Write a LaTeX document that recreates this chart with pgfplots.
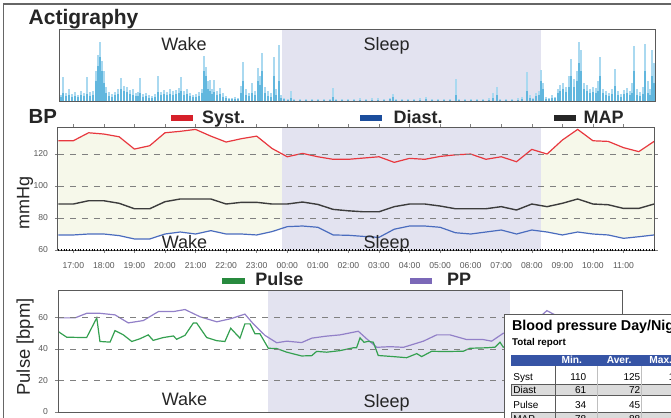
\documentclass[border=0pt]{standalone}
\usepackage{fontspec}
\setmainfont{Liberation Sans}
\usepackage{pgfplots}
\usepackage{pgfplotstable}
\pgfplotsset{compat=1.18}

\definecolor{sleepc}{RGB}{227,227,240}
\definecolor{fillbp}{RGB}{246,248,234}
\definecolor{sysc}{RGB}{232,56,63}
\definecolor{diac}{RGB}{74,108,190}
\definecolor{mapc}{RGB}{60,60,60}
\definecolor{pulsec}{RGB}{52,160,80}
\definecolor{ppc}{RGB}{146,128,200}
\definecolor{actlight}{RGB}{170,217,240}
\definecolor{actdark}{RGB}{98,183,222}
\definecolor{legred}{RGB}{214,32,42}
\definecolor{legblue}{RGB}{27,77,156}
\definecolor{leggreen}{RGB}{40,138,62}
\definecolor{legpurple}{RGB}{123,104,184}
\definecolor{tblue}{RGB}{54,84,165}
\definecolor{framec}{RGB}{90,90,90}

\pgfplotstableread{
t sys dia map
16.51 128.3 69.4 88.75
17.0 128.3 69.4 88.75
17.5 133.3 70.0 90.8
18.0 132.5 70.0 90.8
18.5 130.8 69.0 89.2
19.0 123.1 66.9 85.8
19.5 125.2 66.9 85.8
20.0 133.3 70.0 90.2
20.5 134.2 71.25 91.9
21.0 135.4 70.0 91.9
21.5 131.2 72.1 91.9
22.0 127.5 70.0 88.75
22.5 129.6 70.0 89.8
23.0 131.2 69.4 89.8
23.5 123.5 71.5 88.75
24.0 118.3 74.6 88.75
24.5 120.4 75.0 90.0
25.0 118.3 74.2 88.5
25.5 116.7 69.4 85.4
26.0 116.7 69.2 84.5
26.5 117.5 68.5 83.9
27.0 118.3 67.9 83.9
27.5 114.8 73.0 87.1
28.0 117.3 75.0 88.75
28.5 116.7 75.0 88.75
29.0 118.5 74.2 87.5
29.5 119.5 70.8 85.8
30.0 120.0 70.0 85.8
30.5 116.7 71.25 85.8
31.0 118.3 72.5 87.1
31.5 115.2 70.0 85.0
32.0 122.9 72.5 88.75
32.5 120.0 71.25 87.1
33.0 128.75 69.4 89.2
33.5 135.4 71.25 91.9
34.0 128.3 70.0 88.75
34.5 127.9 69.4 88.3
35.0 124.0 67.3 86.0
35.5 121.5 68.3 86.0
36.0 127.9 69.4 88.75
}\bpdata

\pgfplotstableread{
t v
16.51 51.1
16.80 47.5
17.49 47.3
17.84 59.8
17.95 44.8
18.30 44.4
18.47 51.7
18.76 49.0
19.05 44.8
19.33 46.5
19.62 49.0
19.79 45.5
20.14 47.3
20.49 48.3
20.60 46.2
20.89 48.7
21.18 56.6
21.29 56.6
21.64 47.3
21.99 45.3
22.27 44.8
22.47 53.2
22.79 46.9
22.96 56.0
23.14 56.0
23.31 49.7
23.48 49.7
23.77 40.5
24.06 40.3
24.41 38.0
24.92 35.6
25.27 35.8
25.44 38.5
25.79 38.0
26.25 39.0
26.71 40.8
26.82 40.8
26.94 47.1
27.08 44.3
27.23 44.9
27.40 44.3
27.57 35.9
28.09 35.2
28.55 34.5
28.90 37.1
29.07 35.2
29.42 38.6
29.82 38.4
30.51 38.6
30.74 40.5
31.32 40.8
31.61 41.2
31.78 44.3
31.89 41.2
32.13 42.2
32.82 44.0
33.40 47.0
33.85 46.0
}\pulsedata

\pgfplotstableread{
t v
16.51 59.8
17.09 59.8
17.49 62.7
17.95 62.7
18.47 61.7
18.93 56.6
19.45 58.1
19.97 63.8
20.49 63.8
20.89 65.1
21.41 60.5
21.99 57.3
22.50 59.4
22.96 62.2
23.25 56.0
23.66 48.6
24.06 44.0
24.41 45.0
24.92 44.1
25.27 46.9
25.73 48.1
26.25 49.0
26.88 51.3
27.17 46.5
27.52 41.1
27.98 41.5
28.44 41.1
29.13 45.0
29.59 49.0
30.05 49.0
30.63 46.0
31.20 46.0
31.49 45.0
31.89 50.0
32.13 49.6
32.82 55.0
33.40 64.4
33.85 60.0
}\ppdata

\pgfplotstableread{
x L D
61 6 4
63 24 8
66 8 5
69 12 6
72 7 4
75 9 5
78 6 4
81 10 6
84 8 5
87 24 7
90 9 5
93 10 6
96 30 20
98 46 35
100 59 44
102 40 30
104 30 18
106 14 8
109 9 5
112 7 4
115 9 6
118 12 7
121 23 12
124 15 10
127 14 9
130 11 7
133 12 6
136 8 5
138 9 5
140 23 8
143 7 4
146 8 5
149 6 3
152 5 3
155 7 4
158 25 9
161 9 6
164 11 7
167 9 6
170 12 7
173 10 6
176 11 7
179 13 8
181 24 10
184 10 6
187 12 7
190 8 5
193 6 4
196 7 4
199 9 5
202 12 8
204 45 30
206 34 25
208 20 12
210 21 10
212 12 7
214 21 9
217 10 6
220 13 7
223 8 4
226 5 3
229 3 2
232 3 2
235 4 2
238 3 2
241 15 8
243 39 20
246 12 6
249 8 5
252 18 8
255 10 6
258 33 20
260 25 16
262 48 30
265 14 8
268 10 5
271 8 4
274 44 25
276 12 6
279 56 20
281 6 3
284 3 2
288 2 1
291 10 3
294 2 1
300 2 1
306 2 1
312 2 1
318 2 1
324 2 1
330 2 1
333 13 4
336 2 1
342 2 1
348 2 1
354 2 1
360 3 1
366 2 1
372 3 1
378 3 1
384 2 1
390 3 2
393 7 4
396 2 1
402 2 1
408 2 1
414 2 1
420 3 1
426 4 2
432 2 1
438 2 1
444 2 1
450 2 1
456 22 6
459 2 1
465 2 1
471 2 1
477 2 1
483 2 1
489 3 1
493 8 3
497 14 6
500 2 1
506 2 1
512 2 1
518 3 1
522 4 2
527 29 10
530 6 3
533 3 2
536 8 5
539 10 6
541 31 20
543 18 12
546 4 2
549 3 2
552 6 3
555 4 3
558 12 8
560 16 10
563 18 12
566 14 9
569 25 14
571 42 25
574 22 14
577 30 20
579 59 38
581 51 30
584 18 12
587 16 10
590 12 8
593 14 9
596 13 8
598 20 10
600 44 25
603 12 8
606 10 6
609 8 5
612 12 7
615 32 15
618 10 6
621 7 4
624 11 7
627 13 8
630 10 6
632 18 8
634 55 30
637 12 6
640 9 5
643 14 7
645 57 30
648 20 8
650 12 6
652 51 25
654 38 18
}\actdata

\begin{document}
\begin{tikzpicture}
\useasboundingbox (0,0) rectangle (335.5pt,-209pt);
\fill[white] (0,0) rectangle (335.5pt,-209pt);
\draw[gray!80!black, line width=0.7pt] (1.75pt,-209pt) -- (1.75pt,-2pt) -- (335.5pt,-2pt);

% ---------- Actigraphy ----------
\begin{axis}[scale only axis, width=297.5pt, height=35.5pt,
  at={(30pt,-50.5pt)}, anchor=south west,
  xmin=60, xmax=655, ymin=0, ymax=71,
  axis on top, xtick=\empty, ytick=\empty,
  axis line style={framec, line width=0.5pt}]
\addplot[fill=sleepc, draw=none] coordinates {(282,0) (282,71) (540.7,71) (540.7,0)} -- cycle;
\addplot[ycomb, color=actlight, line width=1pt, mark=none] table[x=x,y=L]{\actdata};
\addplot[ycomb, color=actdark, line width=1.1pt, mark=none] table[x=x,y=D]{\actdata};
\end{axis}

% ---------- BP ----------
\begin{axis}[scale only axis, width=298.5pt, height=61.5pt,
  at={(29pt,-125pt)}, anchor=south west,
  xmin=16.5, xmax=36.03, ymin=60, ymax=136.9,
  axis on top,
  xtick={17,18,...,35},
  xticklabels={17:00,18:00,19:00,20:00,21:00,22:00,23:00,00:00,01:00,02:00,03:00,04:00,05:00,06:00,07:00,08:00,09:00,10:00,11:00},
  ytick={60,80,100,120},
  ymajorgrids, major grid style={gray, dashed, line width=0.4pt},
  extra y ticks={60}, extra y tick labels={},
  extra y tick style={grid=major, major grid style={black, densely dotted, line width=1.2pt}},
  tick align=outside, major tick length=1.5pt,
  tick style={gray, line width=0.3pt},
  ticklabel style={font=\fontsize{4.3}{5}\selectfont, text=gray!70!black},
  xticklabel style={yshift=-1pt},
  axis line style={framec, line width=0.5pt},
  /pgf/number format/assume math mode=true]
\addplot[fill=fillbp, draw=none] table[x=t,y=sys]{\bpdata} \closedcycle;
\addplot[fill=white, draw=none] table[x=t,y=dia]{\bpdata} \closedcycle;
\addplot[fill=sleepc, draw=none] coordinates {(23.83,60) (23.83,136.9) (32.29,136.9) (32.29,60)} -- cycle;
\addplot[sysc, line width=0.6pt, mark=none] table[x=t,y=sys]{\bpdata};
\addplot[diac, line width=0.6pt, mark=none] table[x=t,y=dia]{\bpdata};
\addplot[mapc, line width=0.7pt, mark=none] table[x=t,y=map]{\bpdata};
\end{axis}

% ---------- Pulse ----------
\begin{axis}[scale only axis, width=282.5pt, height=61pt,
  at={(29pt,-206pt)}, anchor=south west,
  xmin=16.5, xmax=36.03, ymin=0, ymax=77.5,
  axis on top,
  xtick=\empty,
  ytick={0,20,40,60},
  ymajorgrids, major grid style={gray, dashed, line width=0.4pt},
  tick align=outside, major tick length=1.5pt,
  tick style={gray, line width=0.3pt},
  ticklabel style={font=\fontsize{4.3}{5}\selectfont, text=gray!70!black},
  axis line style={framec, line width=0.5pt},
  /pgf/number format/assume math mode=true]
\addplot[fill=sleepc, draw=none] coordinates {(23.76,0) (23.76,77.5) (32.13,77.5) (32.13,0)} -- cycle;
\addplot[ppc, line width=0.6pt, mark=none] table[x=t,y=v]{\ppdata};
\addplot[pulsec, line width=0.6pt, mark=none] table[x=t,y=v]{\pulsedata};
\end{axis}

% ---------- titles and legends ----------
\node[anchor=base west, inner sep=0, font=\fontsize{10.5}{12}\selectfont\bfseries, text=black!85] at (14.15pt,-12pt) {Actigraphy};
\node[anchor=base, inner sep=0, font=\fontsize{9}{10}\selectfont, text=black!85] at (92pt,-25.35pt) {Wake};
\node[anchor=base, inner sep=0, font=\fontsize{9}{10}\selectfont, text=black!85] at (193.35pt,-25.35pt) {Sleep};

\node[anchor=base west, inner sep=0, font=\fontsize{10.2}{12}\selectfont\bfseries, text=black!85] at (14.15pt,-61.5pt) {BP};
\fill[legred] (85.5pt,-57.5pt) rectangle (96.5pt,-60.5pt);
\node[anchor=base west, inner sep=0, font=\fontsize{9}{10}\selectfont\bfseries, text=black!85] at (100.8pt,-61.65pt) {Syst.};
\fill[legblue] (180pt,-57.5pt) rectangle (191pt,-60.5pt);
\node[anchor=base west, inner sep=0, font=\fontsize{9}{10}\selectfont\bfseries, text=black!85] at (196.6pt,-61.65pt) {Diast.};
\fill[black!85] (277pt,-57.5pt) rectangle (288pt,-60.5pt);
\node[anchor=base west, inner sep=0, font=\fontsize{9}{10}\selectfont\bfseries, text=black!85] at (291.6pt,-61.65pt) {MAP};
\node[anchor=base, inner sep=0, font=\fontsize{9}{10}\selectfont, text=black!85] at (92.25pt,-124.15pt) {Wake};
\node[anchor=base, inner sep=0, font=\fontsize{9}{10}\selectfont, text=black!85] at (193.35pt,-124.15pt) {Sleep};
\node[rotate=90, inner sep=0, font=\fontsize{9}{10}\selectfont, text=black!85] at (12.5pt,-101.7pt) {mmHg};

\fill[leggreen] (111pt,-139.2pt) rectangle (122.5pt,-142.2pt);
\node[anchor=base west, inner sep=0, font=\fontsize{9}{10}\selectfont\bfseries, text=black!85] at (127.5pt,-142.85pt) {Pulse};
\fill[legpurple] (205pt,-139.2pt) rectangle (216pt,-142.2pt);
\node[anchor=base west, inner sep=0, font=\fontsize{9}{10}\selectfont\bfseries, text=black!85] at (223.35pt,-142.85pt) {PP};
\node[anchor=base, inner sep=0, font=\fontsize{9}{10}\selectfont, text=black!85] at (92.25pt,-202.5pt) {Wake};
\node[anchor=base, inner sep=0, font=\fontsize{9}{10}\selectfont, text=black!85] at (193.35pt,-203.5pt) {Sleep};
\node[rotate=90, inner sep=0, font=\fontsize{9.2}{10}\selectfont, text=black!85] at (12.5pt,-173.5pt) {Pulse [bpm]};

% ---------- table overlay ----------
\begin{scope}
\clip (0,0) rectangle (335.5pt,-209pt);
\fill[white] (252pt,-157pt) rectangle (345pt,-215pt);
\draw[framec, line width=0.5pt] (345pt,-157pt) -- (252pt,-157pt) -- (252pt,-215pt);
\node[anchor=base west, inner sep=0, font=\fontsize{7.15}{8}\selectfont\bfseries] at (255.85pt,-165.35pt) {Blood pressure Day/Night};
\node[anchor=base west, inner sep=0, font=\fontsize{4.9}{5}\selectfont\bfseries] at (255.85pt,-172.5pt) {Total report};
\fill[tblue] (255.5pt,-177.5pt) rectangle (345pt,-183pt);
\node[anchor=base east, inner sep=0, font=\fontsize{5.1}{6}\selectfont\bfseries, text=white] at (291.2pt,-181.65pt) {Min.};
\node[anchor=base east, inner sep=0, font=\fontsize{5.1}{6}\selectfont\bfseries, text=white] at (315.9pt,-181.65pt) {Aver.};
\node[anchor=base west, inner sep=0, font=\fontsize{5.1}{6}\selectfont\bfseries, text=white] at (324.5pt,-181.65pt) {Max.};
\fill[gray!28] (255.5pt,-192.2pt) rectangle (345pt,-197.6pt);
\draw[framec, line width=0.4pt] (255.5pt,-192.2pt) rectangle (345pt,-197.6pt);
\fill[gray!28] (255.5pt,-206.4pt) rectangle (345pt,-212pt);
\draw[framec, line width=0.4pt] (255.5pt,-206.4pt) rectangle (345pt,-212pt);
\draw[framec, line width=0.5pt] (277.5pt,-183pt) -- (277.5pt,-212pt);
\draw[gray!50, line width=0.4pt] (298.85pt,-183pt) -- (298.85pt,-212pt);
\draw[gray!50, line width=0.4pt] (320.85pt,-183pt) -- (320.85pt,-212pt);
\begin{scope}[every node/.style={inner sep=0, font=\fontsize{5}{6}\selectfont}]
\node[anchor=base west] at (256.5pt,-190pt) {Syst};
\node[anchor=base east] at (293.35pt,-190pt) {110};
\node[anchor=base east] at (320.35pt,-190pt) {125};
\node[anchor=base east] at (343pt,-190pt) {144};
\node[anchor=base west] at (256.5pt,-196.65pt) {Diast};
\node[anchor=base east] at (293.35pt,-196.65pt) {61};
\node[anchor=base east] at (320.35pt,-196.65pt) {72};
\node[anchor=base east] at (343pt,-196.65pt) {86};
\node[anchor=base west] at (256.5pt,-204.15pt) {Pulse};
\node[anchor=base east] at (293.35pt,-204.15pt) {34};
\node[anchor=base east] at (320.35pt,-204.15pt) {45};
\node[anchor=base east] at (343pt,-204.15pt) {66};
\node[anchor=base west] at (256.5pt,-211pt) {MAP};
\node[anchor=base east] at (293.35pt,-211pt) {78};
\node[anchor=base east] at (320.35pt,-211pt) {88};
\end{scope}
\end{scope}
\end{tikzpicture}
\end{document}
